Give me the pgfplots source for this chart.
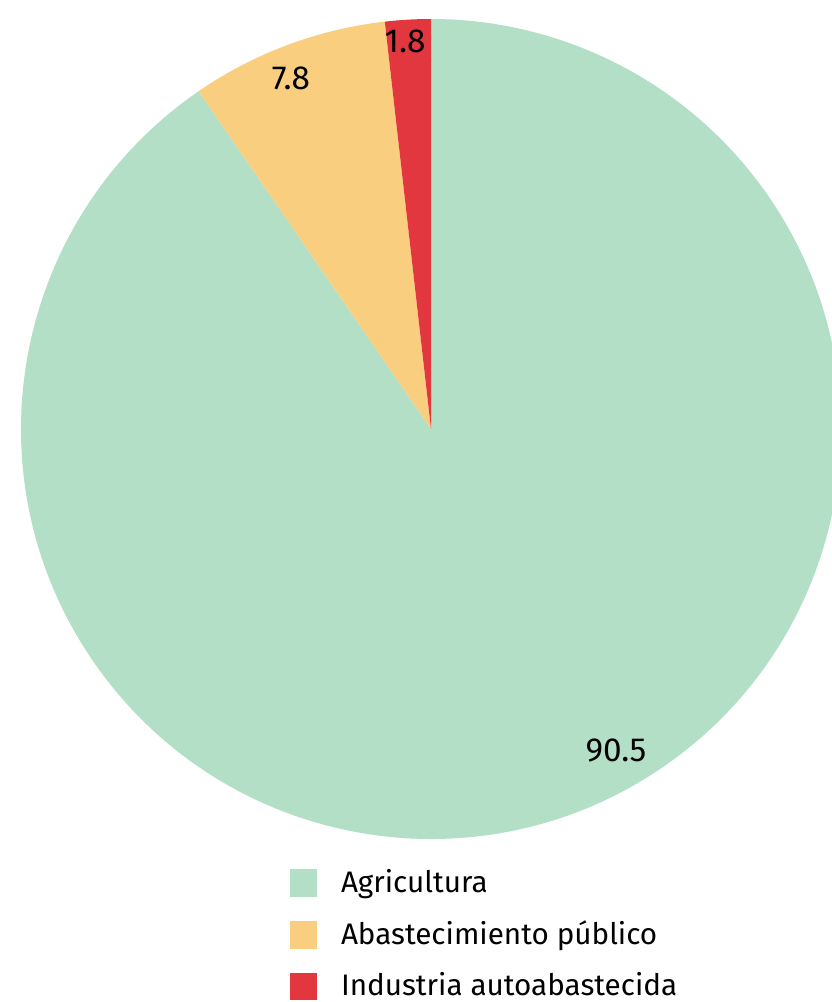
\documentclass[border=0pt]{standalone}
\usepackage{pgfplots}
\pgfplotsset{compat=1.18}
\usepackage{pgfplotstable}
\usepackage{fontspec}
\setmainfont{Fira Sans}

\definecolor{agri}{HTML}{B3DFC7}
\definecolor{abast}{HTML}{F9CF7F}
\definecolor{indus}{HTML}{E3373F}

% shares in percent, drawn counter-clockwise from 12 o'clock
\pgfplotstableread{
sector value
Industria 1.8
Abastecimiento 7.8
Agricultura 90.5
}\piedata

\begin{document}
\begin{tikzpicture}
\pgfplotstablegetelem{0}{value}\of\piedata \let\vInd\pgfplotsretval
\pgfplotstablegetelem{1}{value}\of\piedata \let\vAbs\pgfplotsretval
\pgfplotstablegetelem{2}{value}\of\piedata \let\vAgr\pgfplotsretval
\pgfmathsetmacro{\tot}{\vInd+\vAbs+\vAgr}
\pgfmathsetmacro{\aA}{90}
\pgfmathsetmacro{\aB}{\aA+360*\vInd/\tot}
\pgfmathsetmacro{\aC}{\aB+360*\vAbs/\tot}
\pgfmathsetmacro{\aD}{450}
\begin{axis}[
    x=0.3pt, y=0.3pt,
    xmin=0, xmax=832, ymin=0, ymax=1002,
    hide axis,
    clip=false,
    font=\fontsize{10}{12}\selectfont,
    legend style={
        at={(axis cs:279,147)}, anchor=north west,
        draw=none, fill=none,
        row sep=3pt,
        font=\fontsize{8.9}{10.5}\selectfont,
        cells={anchor=west},
    },
    legend cell align=left,
    legend image code/.code={\fill[#1] (0pt,-3.9pt) rectangle (7.8pt,3.9pt); \path (13pt,0pt);},
]
% page frame, so that the picture keeps the reference's size
\coordinate (ll) at (axis cs:0,0);
\coordinate (ur) at (axis cs:832,1002);
\def\cx{431}\def\cy{573}\def\rr{410}
% slices
\fill[agri] (axis cs:\cx,\cy) -- (axis cs:{\cx+\rr*cos(\aC)},{\cy+\rr*sin(\aC)})
    arc[start angle=\aC, end angle=\aD, radius=123pt] -- cycle;
\fill[abast] (axis cs:\cx,\cy) -- (axis cs:{\cx+\rr*cos(\aB)},{\cy+\rr*sin(\aB)})
    arc[start angle=\aB, end angle=\aC, radius=123pt] -- cycle;
\fill[indus] (axis cs:\cx,\cy) -- (axis cs:{\cx+\rr*cos(\aA)},{\cy+\rr*sin(\aA)})
    arc[start angle=\aA, end angle=\aB, radius=123pt] -- cycle;
% value labels
\node at (axis cs:405,961) {\vInd};
\node at (axis cs:291,924) {\vAbs};
\node at (axis cs:616,251) {\vAgr};

\addlegendimage{agri}
\addlegendentry{Agricultura}
\addlegendimage{abast}
\addlegendentry{Abastecimiento público}
\addlegendimage{indus}
\addlegendentry{Industria autoabastecida}
\end{axis}
\pgfresetboundingbox
\useasboundingbox (ll) rectangle (ur);
\end{tikzpicture}
\end{document}
